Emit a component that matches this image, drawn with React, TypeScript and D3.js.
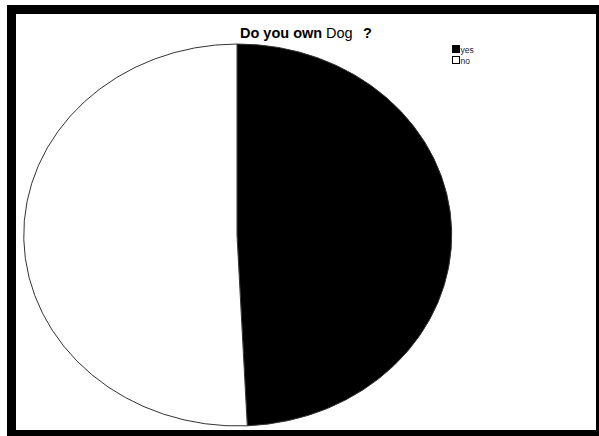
import React from "react";
import * as d3 from "d3";

const categories = ["yes", "no"];
const values = [65, 67];
const colors = ["#000000", "#ffffff"];

export default function App() {
  const W = 599, H = 436;
  const cx = 237, cy = 235, rx = 214, ry = 191;
  const pie = d3.pie<number>().sort(null).value((d) => d)(values);
  const arc = d3.arc<d3.PieArcDatum<number>>().innerRadius(0).outerRadius(1);
  return (
    <svg width={W} height={H} style={{ position: "absolute", left: 0, top: 0, background: "#fff" }}>
      <rect x={11.5} y={9.5} width={589} height={425} fill="#fff" stroke="#000" strokeWidth={9} />
      <g transform={`translate(${cx},${cy}) scale(${rx},${ry})`}>
        {pie.map((p, i) => (
          <path key={i} d={arc(p) || ""} fill={colors[i]} stroke="#333" strokeWidth={1} vectorEffect="non-scaling-stroke" />
        ))}
      </g>
      <text y={38} fontFamily="Liberation Sans, Arial, sans-serif" fontSize={14.5} fill="#000">
        <tspan x={240} fontWeight="bold">Do you own</tspan>
        <tspan x={326}>Dog</tspan>
        <tspan x={363} fontWeight="bold">?</tspan>
      </text>
      {categories.map((c, i) => (
        <g key={c} transform={`translate(452.5,${45.5 + i * 11})`}>
          <rect width={7} height={7} fill={colors[i]} stroke="#000" strokeWidth={1} />
          <text x={8} y={7} fontFamily="Liberation Sans, Arial, sans-serif" fontSize={8.5} fill="#222">{c}</text>
        </g>
      ))}
    </svg>
  );
}
